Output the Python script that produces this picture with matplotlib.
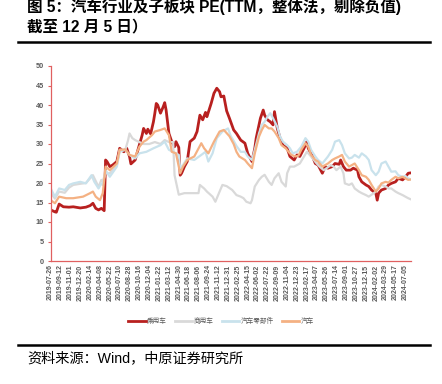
import matplotlib
matplotlib.use("Agg")
import matplotlib.pyplot as plt
from matplotlib.lines import Line2D

# ---------------- data (week index, PE value) ----------------
tick_labels = ["2019-07-26", "2019-09-12", "2019-11-01", "2019-12-20", "2020-02-14", "2020-04-08",
               "2020-05-22", "2020-07-10", "2020-08-28", "2020-10-16", "2020-12-04", "2021-01-22",
               "2021-03-12", "2021-04-30", "2021-06-18", "2021-08-06", "2021-09-24", "2021-11-12",
               "2021-12-31", "2022-02-25", "2022-04-15", "2022-06-02", "2022-07-22", "2022-09-09",
               "2022-11-04", "2022-12-23", "2023-02-17", "2023-04-07", "2023-05-26", "2023-07-14",
               "2023-09-01", "2023-10-27", "2023-12-15", "2024-02-02", "2024-03-29", "2024-05-17",
               "2024-07-05"]
n_weeks = 257

series_names = ["乘用车", "商用车", "汽车零部件", "汽车"]

car_w = [0, 3, 4, 6, 9, 13, 16, 21, 25, 28, 30, 32, 34, 36, 38, 39, 40, 42, 44, 47, 49, 52, 54, 56, 57,
         60, 62, 65, 66, 68, 69, 71, 73, 74, 75, 76, 78, 80, 81, 82, 84, 86, 88, 89, 91, 92, 93, 95, 97,
         99, 102, 104, 106, 108, 110, 111, 114, 116, 118, 120, 121, 123, 125, 127, 130, 132, 135, 138,
         140, 143, 145, 146, 149, 151, 152, 154, 156, 158, 159, 161, 163, 165, 168, 170, 173, 175, 177,
         180, 182, 183, 186, 188, 190, 193, 195, 197, 200, 202, 205, 206, 208, 210, 213, 215, 218, 219,
         221, 224, 226, 228, 231, 232, 233, 235, 238, 240, 242, 245, 247, 250, 252, 254, 256]
car_v = [13.1, 12.6, 12.5, 14.6, 13.9, 13.8, 13.9, 13.6, 13.8, 14.2, 14.8, 13.5, 13.1, 13.5, 12.9, 25.9,
         25.5, 24.2, 24.6, 25.5, 28.9, 28.0, 28.9, 26.8, 24.9, 25.9, 28.5, 32.3, 34.0, 32.7, 33.8, 32.6,
         35.7, 37.9, 40.4, 40.0, 37.9, 39.6, 40.6, 38.7, 32.7, 30.6, 29.3, 30.6, 29.1, 22.0, 22.5, 24.2,
         25.5, 30.6, 31.5, 33.2, 37.4, 36.2, 38.1, 37.0, 40.4, 43.0, 44.3, 43.4, 42.1, 42.3, 38.5, 36.6,
         33.6, 32.7, 31.0, 30.2, 27.6, 25.5, 28.9, 31.5, 36.6, 38.7, 37.4, 36.2, 35.7, 34.9, 38.3, 34.0,
         31.5, 29.7, 28.9, 26.8, 25.9, 27.2, 26.8, 28.9, 30.6, 28.9, 26.8, 25.0, 24.6, 22.5, 24.2, 23.8,
         24.2, 25.0, 24.8, 25.9, 24.2, 23.3, 23.3, 23.8, 23.3, 21.6, 20.3, 19.5, 19.1, 18.2, 17.4, 15.6,
         17.4, 18.2, 18.6, 19.5, 19.9, 20.3, 21.2, 20.8, 21.5, 22.5, 22.6]

truck_w = [0, 3, 6, 10, 13, 16, 21, 25, 28, 30, 32, 34, 36, 37, 39, 42, 47, 49, 53, 55, 56, 58, 60, 63,
           66, 70, 74, 78, 81, 84, 87, 88, 91, 95, 100, 105, 106, 109, 111, 115, 117, 120, 122, 125, 129,
           132, 135, 137, 139, 142, 143, 145, 148, 150, 152, 155, 157, 159, 162, 164, 167, 168, 170, 173,
           175, 177, 180, 182, 184, 187, 189, 191, 194, 196, 199, 201, 203, 206, 208, 209, 212, 214, 216,
           219, 221, 224, 226, 228, 231, 233, 235, 238, 240, 242, 245, 247, 250, 252, 254, 256]
truck_v = [17.5, 16.0, 17.8, 17.5, 18.8, 19.5, 19.8, 20.0, 21.2, 22.0, 20.5, 19.0, 20.8, 20.5, 22.5, 22.5,
           24.5, 28.5, 28.5, 31.0, 32.7, 31.5, 31.0, 30.5, 30.0, 30.0, 30.5, 30.0, 31.0, 30.5, 30.5, 22.0,
           17.0, 17.4, 17.4, 17.4, 19.5, 18.6, 17.8, 16.5, 15.2, 17.8, 19.5, 19.2, 18.2, 16.9, 16.5, 16.1,
           15.2, 14.8, 15.6, 19.1, 20.8, 21.6, 22.1, 20.3, 19.5, 21.2, 22.5, 20.3, 19.1, 22.5, 24.2, 24.2,
           24.6, 25.0, 26.8, 28.0, 27.2, 25.9, 25.0, 24.2, 23.3, 23.8, 24.6, 24.2, 23.3, 24.2, 22.5, 19.9,
           19.5, 19.9, 18.6, 17.8, 17.4, 16.9, 16.5, 17.0, 17.8, 19.1, 19.5, 19.1, 18.6, 18.6, 17.8, 17.4,
           16.9, 16.5, 16.1, 15.8]

parts_w = [0, 3, 6, 10, 13, 16, 21, 25, 29, 31, 34, 36, 37, 39, 42, 47, 49, 53, 56, 60, 63, 68, 73, 78,
           81, 84, 87, 91, 92, 94, 97, 102, 107, 110, 112, 115, 118, 122, 126, 128, 130, 132, 135, 138,
           140, 143, 145, 148, 150, 152, 154, 156, 158, 161, 163, 165, 168, 170, 172, 175, 178, 181, 183,
           185, 188, 190, 193, 195, 197, 200, 202, 205, 207, 209, 212, 214, 216, 219, 221, 224, 226, 228,
           231, 233, 235, 238, 240, 242, 245, 247, 250, 252, 254, 256]
parts_v = [18.6, 16.5, 18.6, 18.2, 19.5, 19.9, 20.3, 19.9, 22.0, 20.3, 18.6, 19.9, 19.5, 23.3, 21.6, 24.2,
           28.0, 28.5, 27.2, 26.3, 27.6, 28.0, 28.9, 29.7, 30.6, 28.5, 28.0, 27.2, 23.8, 24.6, 26.3, 25.9,
           27.2, 28.0, 25.5, 27.6, 31.5, 33.2, 34.0, 32.0, 30.8, 29.5, 28.0, 28.0, 26.8, 25.9, 28.5, 32.7,
           34.9, 35.7, 37.0, 37.9, 36.6, 34.4, 31.9, 30.6, 29.7, 28.9, 27.6, 28.0, 29.3, 31.5, 30.6, 28.5,
           26.8, 25.9, 25.0, 25.9, 26.8, 28.5, 30.6, 31.0, 29.7, 27.6, 26.3, 26.5, 27.2, 26.5, 27.6, 26.8,
           25.9, 23.3, 22.0, 22.9, 25.0, 25.5, 24.2, 22.9, 23.0, 22.0, 21.6, 21.8, 21.2, 20.9]

auto_w = [0, 3, 6, 11, 16, 23, 28, 30, 32, 35, 37, 39, 42, 47, 49, 53, 56, 60, 63, 66, 68, 72, 74, 78,
          81, 84, 86, 89, 92, 94, 97, 102, 107, 109, 112, 116, 120, 123, 127, 130, 132, 134, 138, 140,
          143, 145, 148, 150, 152, 155, 157, 159, 162, 164, 167, 169, 171, 174, 176, 178, 181, 183, 185,
          188, 190, 193, 195, 197, 200, 202, 205, 207, 209, 212, 214, 216, 219, 221, 224, 226, 228, 231,
          233, 235, 238, 240, 242, 245, 247, 250, 252, 254, 256]
auto_v = [15.6, 14.8, 16.5, 16.1, 16.1, 16.5, 17.4, 17.8, 16.5, 15.6, 17.4, 24.2, 23.3, 25.0, 28.5, 28.6,
          27.2, 26.8, 29.3, 30.6, 31.0, 32.3, 33.2, 33.6, 34.0, 32.3, 28.0, 27.6, 22.5, 24.2, 25.9, 26.8,
          30.2, 28.9, 27.6, 30.6, 33.2, 33.6, 32.0, 30.0, 28.0, 26.8, 25.9, 25.0, 23.8, 27.6, 31.9, 33.6,
          34.9, 34.0, 34.0, 33.2, 31.5, 29.7, 28.9, 28.0, 27.2, 26.8, 27.0, 28.5, 30.2, 29.3, 27.2, 25.9,
          25.5, 24.2, 24.6, 25.0, 25.9, 26.3, 26.8, 27.2, 25.5, 24.2, 24.6, 25.0, 23.3, 22.0, 21.6, 20.8,
          19.5, 17.8, 18.6, 19.9, 20.3, 20.1, 20.8, 21.6, 21.2, 21.6, 21.2, 20.8, 20.9]

# ---------------- style ----------------
colors = ["#B8201F", "#D9D9D9", "#C9E2EC", "#F4B183"]
widths = [2.0, 1.6, 1.6, 1.6]
axis_color = "#E06060"
label_color = "#595959"
cjk = ["Noto Sans CJK SC", "DejaVu Sans"]
latin_cjk = ["Liberation Sans", "Noto Sans CJK SC"]

W, H = 442, 384
fig = plt.figure(figsize=(W / 100, H / 100), dpi=100)
fig.patch.set_facecolor("white")

ax = fig.add_axes([50.7 / W, 1 - 261 / H, (411 - 50.7) / W, (261 - 66) / H])

data = [(car_w, car_v), (truck_w, truck_v), (parts_w, parts_v), (auto_w, auto_v)]
for (xw, yv), c, lw, name in zip(data, colors, widths, series_names):
    ax.plot(xw, yv, color=c, lw=lw, label=name, solid_joinstyle="round")

ax.set_xlim(0, n_weeks - 1)
ax.set_ylim(0, 50)
ax.set_yticks(range(0, 51, 5))
ax.set_xticks(range(0, 7 * len(tick_labels), 7))
ax.set_xticklabels(tick_labels, rotation=90, fontsize=5.0, color=label_color,
                   family=["Liberation Sans"], fontweight="bold")
for lab in ax.get_yticklabels():
    lab.set_fontsize(5.2)
    lab.set_color(label_color)
    lab.set_family(["Liberation Sans"])
    lab.set_fontweight("bold")

for s in ["top", "right"]:
    ax.spines[s].set_visible(False)
for s in ["left", "bottom"]:
    ax.spines[s].set_color(axis_color)
    ax.spines[s].set_linewidth(0.9)
ax.tick_params(axis="y", length=2.5, width=0.8, color=axis_color, pad=2.5)
ax.tick_params(axis="x", length=0, pad=2.5)

handles = [Line2D([], [], color=c, lw=2.0) for c in colors]
leg = fig.legend(handles, series_names, loc="center", bbox_to_anchor=(221 / W, 1 - 321 / H),
                 ncol=4, frameon=False, handlelength=2.6, handletextpad=0.15, columnspacing=1.3,
                 prop={"family": cjk, "size": 4.8})
for t in leg.get_texts():
    t.set_color(label_color)

# title and source
fig.text(27 / W, 1 - 7 / H, "图 5：汽车行业及子板块 PE(TTM，整体法，剔除负值)", fontsize=11.2,
         fontweight="bold", family=latin_cjk, va="center", ha="left", color="black")
fig.text(27 / W, 1 - 27 / H, "截至 12 月 5 日）", fontsize=11.2, fontweight="bold",
         family=latin_cjk, va="center", ha="left", color="black")
fig.add_artist(Line2D([18 / W, 430 / W], [1 - 42 / H, 1 - 42 / H], color="black", lw=1.8))
fig.add_artist(Line2D([18 / W, 430 / W], [1 - 345 / H, 1 - 345 / H], color="black", lw=1.8))
fig.text(27 / W, 1 - 358 / H, "资料来源：Wind，中原证券研究所", fontsize=10.2,
         family=latin_cjk, va="center", ha="left", color="black")

fig.savefig("out.png", dpi=100, facecolor="white")
